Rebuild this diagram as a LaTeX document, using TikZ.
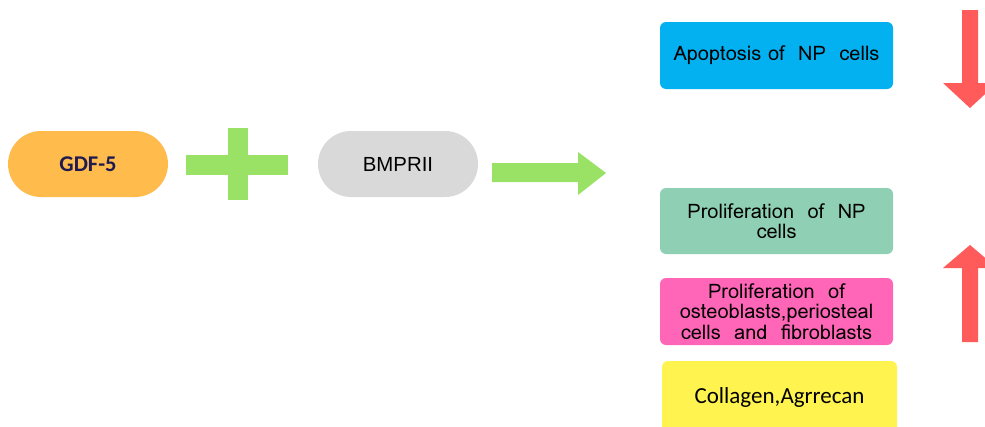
\documentclass[tikz,border=0pt]{standalone}
\usepackage{fontspec}
\setsansfont{Liberation Sans}
\newfontfamily\lomafont{Loma}
\newfontfamily\carlitofont{Carlito}
\usetikzlibrary{positioning}
\definecolor{pillorange}{HTML}{FFBB4C}
\definecolor{pillgray}{HTML}{D9D9D9}
\definecolor{plusgreen}{HTML}{99E265}
\definecolor{boxblue}{HTML}{03B0F0}
\definecolor{boxmint}{HTML}{8FD0B4}
\definecolor{boxpink}{HTML}{FF66B8}
\definecolor{boxyellow}{HTML}{FFF44F}
\definecolor{arrowred}{HTML}{FF5B5B}
\definecolor{navytext}{HTML}{1F1A4F}
\begin{document}
\begin{tikzpicture}[x=1pt, y=-1pt,
    pill/.style={rounded corners=33pt, minimum width=160pt, minimum height=66pt, inner sep=0pt},
    effect/.style={rounded corners=6pt, minimum width=233pt, minimum height=67pt, inner sep=0pt, align=center, font=\lomafont\fontsize{20}{20.5}\selectfont}
]
\useasboundingbox (0,0) rectangle (985,426);
\clip (0,0) rectangle (985,426);

% Ligand and receptor
\node[pill, fill=pillorange, text=navytext, font=\carlitofont\bfseries\fontsize{22.5}{24}\selectfont] (gdf) at (88,164) {GDF-5};
\node[pill, fill=pillgray, font=\sffamily\fontsize{20.4}{22}\selectfont] (bmpr) at (398,164) {BMPRII};

% Plus sign
\fill[plusgreen] (186,155) rectangle (288,175);
\fill[plusgreen] (228,128) rectangle (248,200);

% Effects
\node[effect, fill=boxblue] (apop) at (776.5,55.5) {Apoptosis of\ \ NP\ \ cells};
\node[effect, fill=boxmint, minimum height=66pt] (npprol) at (776.5,221) {Proliferation\ \ of\ \ NP\\cells};
\node[effect, fill=boxpink] (osteo) at (776.5,311.5) {Proliferation\ \ of\\osteoblasts,periosteal\\cells\ \ and\ \ fibroblasts};
\node[effect, fill=boxyellow, minimum width=235pt, minimum height=80pt, font=\carlitofont\fontsize{23}{24}\selectfont] (ecm) at (779.5,401) {\raisebox{11pt}{Collagen,Agrrecan}};

% Green arrow
\fill[plusgreen] (492,163) -- (578,163) -- (578,152) -- (606,173) -- (578,195) -- (578,182) -- (492,182) -- cycle;

% Red arrows
\fill[arrowred] (962,10) -- (978,10) -- (978,83) -- (997,83) -- (970,108) -- (943,83) -- (962,83) -- cycle;
\fill[arrowred] (962,342) -- (978,342) -- (978,268) -- (997,268) -- (970,245) -- (943,268) -- (962,268) -- cycle;
\end{tikzpicture}
\end{document}
